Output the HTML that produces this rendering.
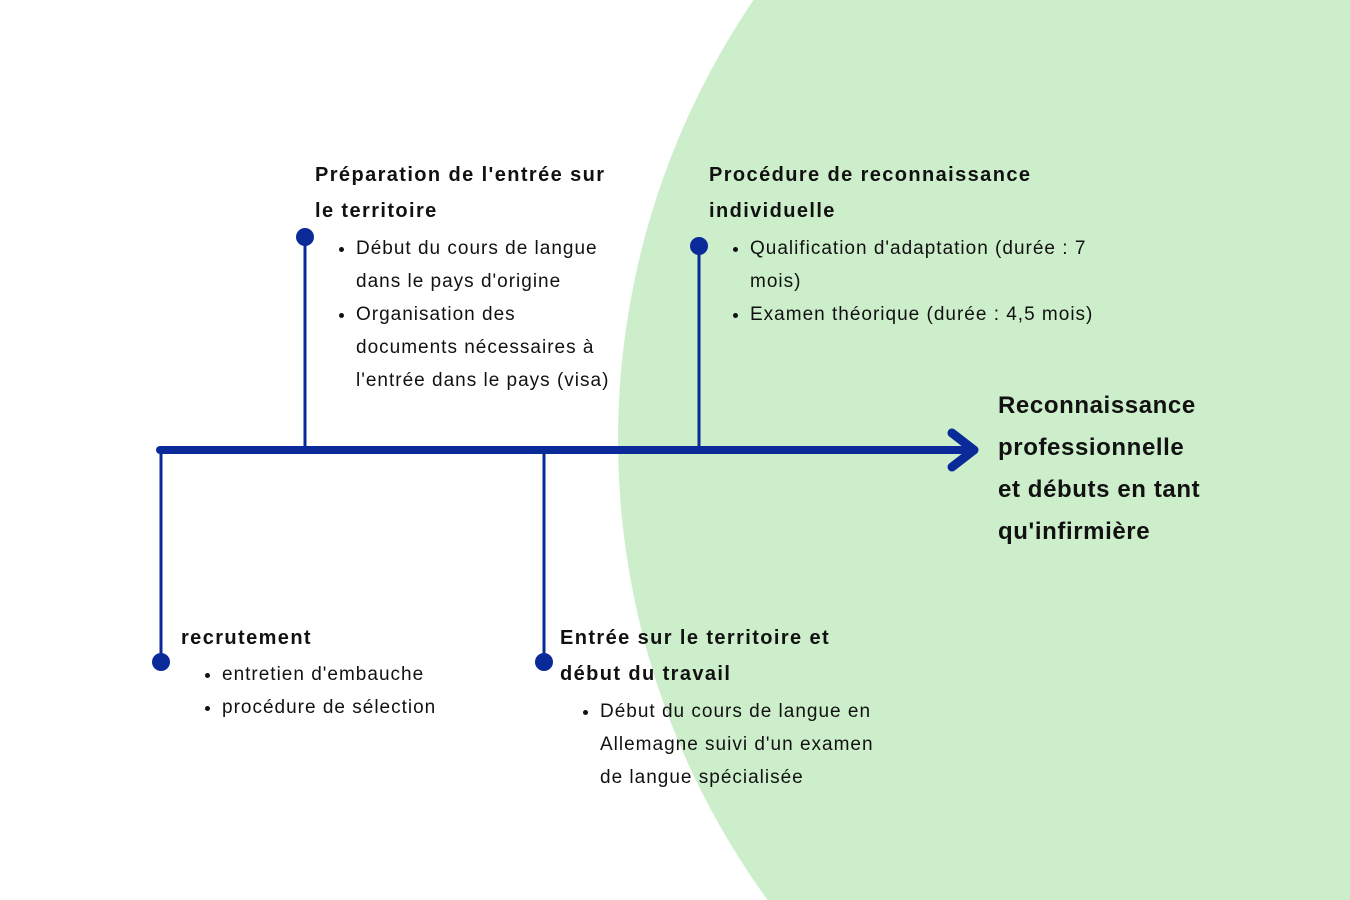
<!DOCTYPE html>
<html><head><meta charset="utf-8"><style>
html,body{margin:0;width:1350px;height:900px;overflow:hidden}
body{background:#fff;position:relative;font-family:"Liberation Sans",sans-serif;color:#111}
.t{position:absolute;white-space:nowrap}
.h{font-weight:bold;font-size:20px;line-height:36px;letter-spacing:1.4px}
.b{font-size:19px;line-height:33px;letter-spacing:1px}
.big{font-weight:bold;font-size:24px;line-height:42px;letter-spacing:0.6px}
ul{margin:0;padding:0 0 0 20px}
</style></head><body>
<svg width="1350" height="900" style="position:absolute;left:0;top:0">
<circle cx="1400" cy="440" r="782" fill="#cdeecb"/>
<g stroke="#0a2a9a" fill="none" stroke-linecap="round" stroke-linejoin="round">
<line x1="160" y1="450" x2="970" y2="450" stroke-width="8"/>
<polyline points="952,433 974,450 952,467" stroke-width="9"/>
<line x1="161" y1="450" x2="161" y2="662" stroke-width="3"/>
<line x1="305" y1="237" x2="305" y2="450" stroke-width="3"/>
<line x1="544" y1="450" x2="544" y2="662" stroke-width="3"/>
<line x1="699" y1="246" x2="699" y2="450" stroke-width="3"/>
</g>
<g fill="#0a2a9a">
<circle cx="161" cy="662" r="9"/><circle cx="305" cy="237" r="9"/>
<circle cx="544" cy="662" r="9"/><circle cx="699" cy="246" r="9"/>
</g>
</svg>
<div class="t h" style="left:315px;top:157px">Préparation de l'entrée sur<br>le territoire</div>
<div class="t b" style="left:336px;top:232px"><ul><li>Début du cours de langue<br>dans le pays d'origine</li><li>Organisation des<br>documents nécessaires à<br>l'entrée dans le pays (visa)</li></ul></div>
<div class="t h" style="left:709px;top:157px">Procédure de reconnaissance<br>individuelle</div>
<div class="t b" style="left:730px;top:232px"><ul><li>Qualification d'adaptation (durée : 7<br>mois)</li><li>Examen théorique (durée : 4,5 mois)</li></ul></div>
<div class="t big" style="left:998px;top:385px">Reconnaissance<br>professionnelle<br>et débuts en tant<br>qu'infirmière</div>
<div class="t h" style="left:181px;top:620px">recrutement</div>
<div class="t b" style="left:202px;top:658px"><ul><li>entretien d'embauche</li><li>procédure de sélection</li></ul></div>
<div class="t h" style="left:560px;top:620px">Entrée sur le territoire et<br>début du travail</div>
<div class="t b" style="left:580px;top:695px"><ul><li>Début du cours de langue en<br>Allemagne suivi d'un examen<br>de langue spécialisée</li></ul></div>
</body></html>
